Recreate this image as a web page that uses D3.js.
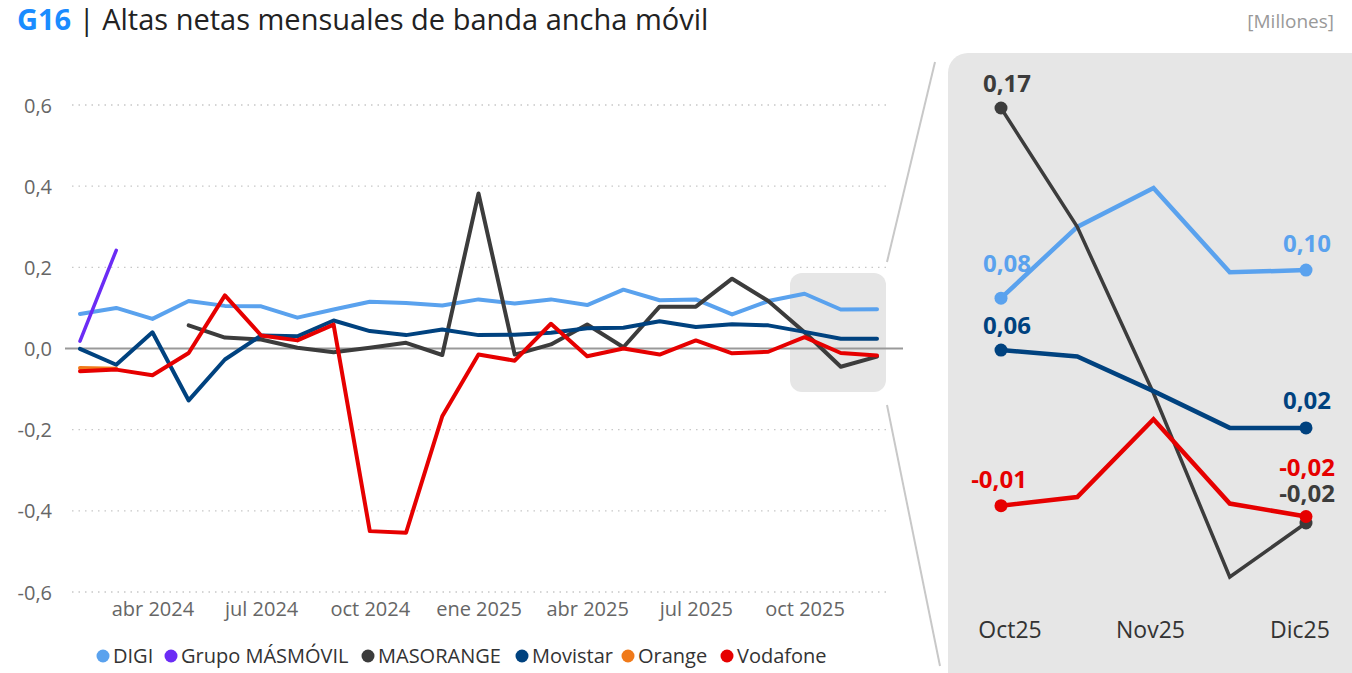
<!DOCTYPE html>
<html>
<head>
<meta charset="utf-8">
<script src="https://cdn.jsdelivr.net/npm/d3@7"></script>
<style>
  body { margin: 0; background: #fff; font-family: "Open Sans", "Noto Sans", sans-serif; }
  svg { display: block; }
</style>
</head>
<body>
<svg id="chart" width="1352" height="673"></svg>
<script>
// months feb 2024 .. dic 2025
const months = ["2024-02","2024-03","2024-04","2024-05","2024-06","2024-07","2024-08","2024-09","2024-10","2024-11","2024-12",
  "2025-01","2025-02","2025-03","2025-04","2025-05","2025-06","2025-07","2025-08","2025-09","2025-10","2025-11","2025-12"];

const tickMonths = ["2024-04","2024-07","2024-10","2025-01","2025-04","2025-07","2025-10"];
const tickLabels = ["abr 2024","jul 2024","oct 2024","ene 2025","abr 2025","jul 2025","oct 2025"];
const yTicks = [-0.6, -0.4, -0.2, 0, 0.2, 0.4, 0.6];

const digi = [0.085,0.10,0.073,0.117,0.105,0.104,0.076,0.096,0.115,0.112,0.106,0.121,0.111,0.121,0.107,0.145,0.119,0.121,0.084,0.117,0.135,0.096,0.097];
const masmovil = [0.018,0.242,null,null,null,null,null,null,null,null,null,null,null,null,null,null,null,null,null,null,null,null,null];
const masorange = [null,null,null,0.057,0.027,0.022,0.002,-0.009,0.002,0.014,-0.016,0.382,-0.015,0.01,0.059,0.003,0.103,0.103,0.172,0.117,0.04,-0.045,-0.02];
const movistar = [-0.001,-0.04,0.04,-0.128,-0.027,0.032,0.03,0.069,0.043,0.033,0.047,0.033,0.034,0.039,0.05,0.051,0.067,0.053,0.06,0.057,0.041,0.024,0.024];
const orange = [-0.048,-0.05,null,null,null,null,null,null,null,null,null,null,null,null,null,null,null,null,null,null,null,null,null];
const vodafone = [-0.056,-0.052,-0.066,-0.011,0.131,0.032,0.02,0.059,-0.45,-0.454,-0.167,-0.015,-0.03,0.061,-0.019,0,-0.015,0.02,-0.012,-0.008,0.028,-0.011,-0.017];

// zoom panel: last five months, labels on every other month
const zoomMonths = months.slice(-5);
const zoomLabels = ["Oct25", "", "Nov25", "", "Dic25"];

const series = [
  {name: "DIGI", values: digi, color: "#5aa2ee", zoom: true},
  {name: "Grupo MÁSMÓVIL", values: masmovil, color: "#6b2cf5", zoom: false},
  {name: "MASORANGE", values: masorange, color: "#3c3c3c", zoom: true},
  {name: "Movistar", values: movistar, color: "#00427f", zoom: true},
  {name: "Orange", values: orange, color: "#f07a1a", zoom: false},
  {name: "Vodafone", values: vodafone, color: "#e60000", zoom: true}
];

const svg = d3.select("#chart");
const fmt = v => d3.format(".2f")(v).replace(".", ",").replace("−", "-");
const fmt1 = v => d3.format(".1f")(v).replace(".", ",").replace("−", "-");

// title
const title = svg.append("text").attr("x", 17).attr("y", 30).attr("font-size", 29);
title.append("tspan").attr("fill", "#1a8cff").attr("font-weight", "bold").text("G16");
title.append("tspan").attr("fill", "#222").text(" | Altas netas mensuales de banda ancha móvil");

svg.append("text").attr("x", 1334).attr("y", 28).attr("text-anchor", "end")
  .attr("font-size", 19).attr("fill", "#999").text("[Millones]");

// main chart
const x = d3.scalePoint().domain(months).range([80, 877]);
const y = d3.scaleLinear().domain([-0.6, 0.6]).range([592, 105]);

// zoom box in main chart
svg.append("rect").attr("x", 790).attr("y", 273).attr("width", 96).attr("height", 119)
  .attr("rx", 12).attr("fill", "#e6e6e6");

// grid
svg.append("g").selectAll("line")
  .data(yTicks.filter(d => d !== 0))
  .join("line")
  .attr("x1", 72).attr("x2", 888)
  .attr("y1", d => y(d)).attr("y2", d => y(d))
  .attr("stroke", "#c8c8c8").attr("stroke-width", 1.3).attr("stroke-dasharray", "1.5,5");

svg.append("line").attr("x1", 65).attr("x2", 903).attr("y1", y(0)).attr("y2", y(0))
  .attr("stroke", "#999").attr("stroke-width", 2);

// y axis
const yAxis = svg.append("g").attr("transform", "translate(55,0)")
  .call(d3.axisLeft(y).tickValues(yTicks).tickFormat(fmt1).tickSize(0));
yAxis.select(".domain").remove();
yAxis.selectAll("text").attr("font-size", 20).attr("fill", "#666").attr("font-family", "Open Sans").attr("dy", "0.35em");

// x axis
const xAxis = svg.append("g").attr("transform", "translate(0,599)")
  .call(d3.axisBottom(x).tickValues(tickMonths).tickFormat((d, i) => tickLabels[i]).tickSize(0));
xAxis.select(".domain").remove();
xAxis.selectAll("text").attr("font-size", 20).attr("fill", "#666").attr("font-family", "Open Sans");

const line = d3.line()
  .defined(d => d.v !== null)
  .x(d => x(d.m))
  .y(d => y(d.v));

svg.append("g").selectAll("path")
  .data(series)
  .join("path")
  .attr("d", s => line(s.values.map((v, i) => ({m: months[i], v: v}))))
  .attr("fill", "none")
  .attr("stroke", s => s.color)
  .attr("stroke-width", s => s.name === "Grupo MÁSMÓVIL" ? 3.5 : 4)
  .attr("stroke-linejoin", "round")
  .attr("stroke-linecap", "round");

// legend
const legendX = [103, 171, 368, 522, 628, 727];
const legend = svg.append("g").selectAll("g")
  .data(series)
  .join("g")
  .attr("transform", (d, i) => `translate(${legendX[i]},656)`);
legend.append("circle").attr("r", 6.5).attr("fill", d => d.color);
legend.append("text").attr("x", 10).attr("dy", "0.35em").attr("font-size", 20).attr("fill", "#333")
  .text(d => d.name);

// connector lines
svg.append("line").attr("x1", 935).attr("y1", 62).attr("x2", 887).attr("y2", 262)
  .attr("stroke", "#c8c8c8").attr("stroke-width", 2);
svg.append("line").attr("x1", 887).attr("y1", 405).attr("x2", 940).attr("y2", 666)
  .attr("stroke", "#c8c8c8").attr("stroke-width", 2);

// zoom panel
svg.append("rect").attr("x", 948).attr("y", 53).attr("width", 430).attr("height", 660)
  .attr("rx", 20).attr("fill", "#e6e6e6");

const zx = d3.scalePoint().domain(zoomMonths).range([1001, 1306]);
const zy = d3.scaleLinear().domain([-0.02, 0.172]).range([523, 108]);

const zoomLine = d3.line().x(d => zx(d.m)).y(d => zy(d.v));
const zSeries = series.filter(s => s.zoom).map(s => ({
  name: s.name, color: s.color,
  pts: s.values.slice(-5).map((v, i) => ({m: zoomMonths[i], v: v}))
}));

const zg = svg.append("g");
zg.selectAll("path")
  .data(zSeries)
  .join("path")
  .attr("d", s => zoomLine(s.pts))
  .attr("fill", "none")
  .attr("stroke", s => s.color)
  .attr("stroke-width", s => s.name === "MASORANGE" ? 3.5 : 4.5);

// end markers and labels (baseline offset above the point)
const labelGap = {
  "DIGI": [26, 18], "MASORANGE": [16, 21], "Movistar": [16, 19], "Vodafone": [18, 41]
};
zSeries.forEach(s => {
  [0, 4].forEach(i => {
    const p = s.pts[i];
    zg.append("circle").attr("cx", zx(p.m)).attr("cy", zy(p.v)).attr("r", 6.5).attr("fill", s.color);
    const gap = labelGap[s.name][i === 0 ? 0 : 1];
    zg.append("text")
      .attr("x", i === 0 ? (s.name === "Vodafone" ? 999 : 1007) : 1307)
      .attr("y", zy(p.v) - gap)
      .attr("text-anchor", "middle")
      .attr("font-size", 24).attr("font-weight", "bold").attr("fill", s.color)
      .text(fmt(p.v));
  });
});

zg.selectAll(".zl")
  .data(zoomMonths.filter((m, i) => zoomLabels[i] !== ""))
  .join("text")
  .attr("x", (m) => zx(m) + (m === "2025-08" ? 9 : (m === "2025-12" ? -6 : -3)))
  .attr("y", 638)
  .attr("text-anchor", "middle")
  .attr("font-size", 23).attr("fill", "#333")
  .text(m => zoomLabels[zoomMonths.indexOf(m)]);
</script>
</body>
</html>
